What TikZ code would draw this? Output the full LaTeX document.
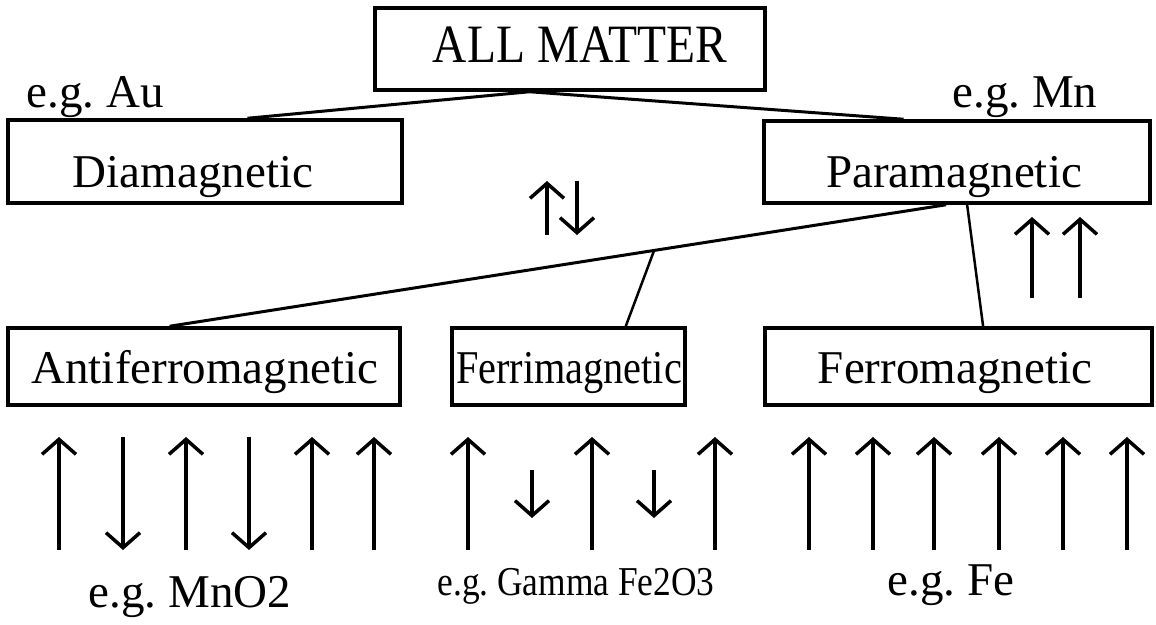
\documentclass[tikz,border=0pt]{standalone}
\usepackage{fontspec}
\setmainfont{Liberation Serif}
\usetikzlibrary{arrows.meta,calc}
\tikzset{
 box/.style={draw, line width=3.5pt, rectangle, inner sep=0pt},
 lbl/.style={anchor=base, inner sep=0pt, font=\fontsize{47}{50}\selectfont},
 conn/.style={line width=3pt},
 spin/.style={line width=3.5pt, -{Straight Barb[length=15pt,width=34pt]}},
}
\begin{document}
\frenchspacing
\begin{tikzpicture}[x=1pt,y=-1pt]
\useasboundingbox (0,0) rectangle (1156,624);
% boxes
\node[box, minimum width=390pt, minimum height=82pt] (all) at (570,49) {};
\node[box, minimum width=394pt, minimum height=83pt] (dia) at (205,161.5) {};
\node[box, minimum width=386pt, minimum height=82pt] (para) at (957,162) {};
\node[box, minimum width=392pt, minimum height=77pt] (anti) at (204,366.5) {};
\node[box, minimum width=233pt, minimum height=77pt] (ferri) at (568.5,366.5) {};
\node[box, minimum width=387pt, minimum height=77pt] (ferro) at (958.5,366.5) {};
% texts
\node[lbl, font=\fontsize{54}{58}\selectfont] (allt) at (580,62) {\resizebox{294pt}{\height}{ALL MATTER}};
\node[lbl] (egau) at (95,107) {e.g. Au};
\node[lbl] (diat) at (193,187) {Diamagnetic};
\node[lbl] (egmn) at (1025,107) {e.g. Mn};
\node[lbl] (parat) at (954,187) {Paramagnetic};
\node[lbl] (antit) at (205,383) {Antiferromagnetic};
\node[lbl] (ferrit) at (569,383) {\resizebox{226pt}{\height}{Ferrimagnetic}};
\node[lbl] (ferrot) at (955,383) {Ferromagnetic};
\node[lbl] (egmno) at (190,607) {e.g. MnO2};
\node[lbl, font=\fontsize{41}{44}\selectfont] (eggam) at (576,595) {\resizebox{277pt}{\height}{e.g. Gamma Fe2O3}};
\node[lbl] (egfe) at (951,595) {e.g. Fe};
% connectors
\coordinate (apex) at ($(all.south west)!0.397!(all.south east)$);
\draw[conn] (apex) -- ($(dia.north west)!0.607!(dia.north east)$);
\draw[conn] (apex) -- ($(para.north west)!0.363!(para.north east)$);
\coordinate (pa1) at ($(para.south west)!0.472!(para.south east)$);
\coordinate (pa2) at ($(para.south west)!0.526!(para.south east)$);
\coordinate (af1) at ($(anti.north west)!0.413!(anti.north east)$);
\draw[conn] (pa1) -- (af1);
\coordinate (br) at ($(pa1)!0.376!(af1)$);
\draw[conn, line width=2.5pt] (br) -- ($(ferri.north west)!0.742!(ferri.north east)$);
\draw[conn, line width=2.5pt] (pa2) -- ($(ferro.north west)!0.563!(ferro.north east)$);
% middle spins
\draw[spin] (547,235) -- (547,181);
\draw[spin] (577,181) -- (577,235);
\draw[spin] (1032,298) -- (1032,217);
\draw[spin] (1080,298) -- (1080,217);
% antiferro spins
\foreach \x in {59,186,312,374} \draw[spin] (\x,550) -- (\x,437);
\foreach \x in {123,249} \draw[spin] (\x,437) -- (\x,550);
% ferri spins
\foreach \x in {468,592,715} \draw[spin] (\x,550) -- (\x,437);
\foreach \x in {532,654} \draw[spin] (\x,470) -- (\x,518);
% ferro spins
\foreach \x in {809,873,934,999,1063,1127} \draw[spin] (\x,550) -- (\x,437);
\end{tikzpicture}
\end{document}
